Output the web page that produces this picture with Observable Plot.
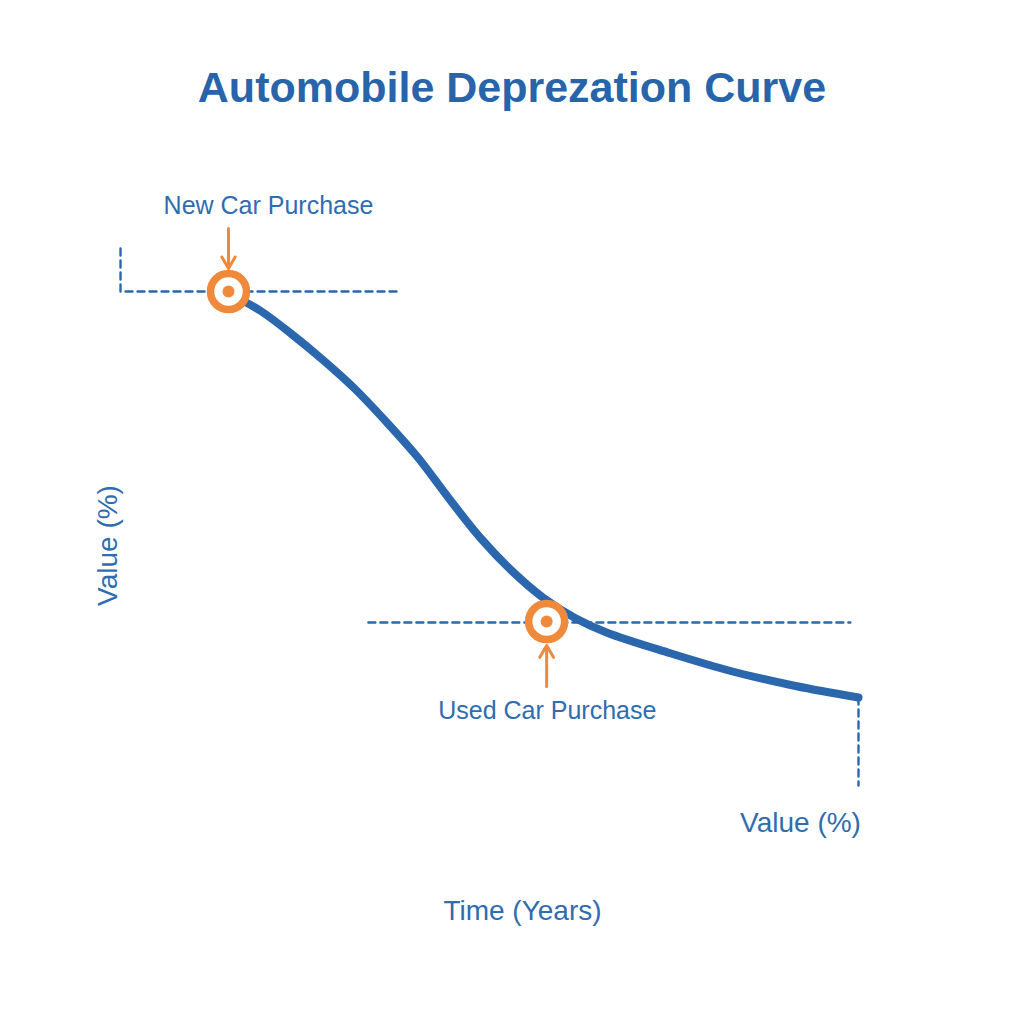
<!DOCTYPE html>
<html>
<head>
<meta charset="utf-8">
<script src="https://cdn.jsdelivr.net/npm/d3@7"></script>
<script src="https://cdn.jsdelivr.net/npm/@observablehq/plot@0.6"></script>
<style>
  html, body { margin: 0; padding: 0; background: #fff; }
  #title { height: 150px; box-sizing: border-box; padding-top: 64px; text-align: center;
    font-family: "Liberation Sans", Arial, sans-serif; font-weight: bold; font-size: 43px;
    line-height: 46px; color: #2864a9; width: 1024px; }
  #chart svg { display: block; overflow: visible; }
</style>
</head>
<body>
<div id="title">Automobile Deprezation Curve</div>
<div id="chart"></div>
<script>
// Data
const years  = [0, 0.5, 1, 1.5, 2, 2.5, 3, 3.5, 4, 4.5, 5, 5.5, 6, 7, 8, 9, 10];
const values = [99.6, 96.2, 91.5, 86.3, 80.6, 74, 66.9, 58.6, 50.7, 44.1, 38.7, 34.7, 31.8, 27.7, 24, 21.1, 18.8];

const eventNames  = ["New Car Purchase", "Used Car Purchase"];
const eventYears  = [0, 5.05];
const eventValues = [100, 34];

// reference (dashed) guides
const guideTopYears  = [-1.714, -1.714, 2.698];
const guideTopValues = [108.6, 100, 100];
const guideLowYears  = [2.22, 9.87];
const guideLowValues = [33.8, 33.8];
const guideEndYears  = [10, 10];
const guideEndValues = [18.8, 1.2];

const curve = years.map((x, i) => ({x, y: values[i]}));
const events = eventNames.map((name, i) => ({name, x: eventYears[i], y: eventValues[i]}));
const gTop = guideTopYears.map((x, i) => ({x, y: guideTopValues[i]}));
const gLow = guideLowYears.map((x, i) => ({x, y: guideLowValues[i]}));
const gEnd = guideEndYears.map((x, i) => ({x, y: guideEndValues[i]}));

const blue = "#2b67ad";
const textBlue = "#2f6cb0";
const orange = "#ef8a3d";
const font = "Liberation Sans, Arial, sans-serif";

const arrows = [
  {x: events[0].x, y1: 112.6, y2: 104.6},
  {x: events[1].x, y1: 21, y2: 29.2}
];
const labels = [
  {name: events[0].name, x: 0.635, y: 117.2},
  {name: events[1].name, x: 5.06, y: 16.2}
];

const plot = Plot.plot({
  width: 1024,
  height: 874,
  marginLeft: 228,
  marginRight: 166,
  marginTop: 141,
  marginBottom: 233,
  x: {domain: [0, 10], axis: null},
  y: {domain: [0, 100], axis: null},
  style: {fontFamily: font, background: "white"},
  marks: [
    Plot.line(gTop, {x: "x", y: "y", stroke: blue, strokeWidth: 2.4, strokeDasharray: "7,5"}),
    Plot.line(gLow, {x: "x", y: "y", stroke: blue, strokeWidth: 2.4, strokeDasharray: "7,5"}),
    Plot.line(gEnd, {x: "x", y: "y", stroke: blue, strokeWidth: 2.4, strokeDasharray: "7,5"}),
    Plot.line(curve, {x: "x", y: "y", stroke: blue, strokeWidth: 8, curve: "catmull-rom", strokeLinecap: "round"}),
    Plot.dot(events, {x: "x", y: "y", r: 18, stroke: orange, strokeWidth: 7.5, fill: "white"}),
    Plot.dot(events, {x: "x", y: "y", r: 6, fill: orange}),
    Plot.arrow(arrows, {x: "x", y1: "y1", y2: "y2", stroke: orange, strokeWidth: 3, headLength: 16}),
    Plot.text(labels, {x: "x", y: "y", text: "name", fill: textBlue, fontSize: 25}),
    Plot.text(["Value (%)"], {frameAnchor: "left", textAnchor: "middle", rotate: -90, dx: -120, dy: 4, fill: textBlue, fontSize: 28}),
    Plot.text(["Value (%)"], {frameAnchor: "bottom-right", textAnchor: "middle", dx: -58, dy: 40, fill: textBlue, fontSize: 28}),
    Plot.text(["Time (Years)"], {frameAnchor: "bottom", dx: -21, dy: 128, fill: textBlue, fontSize: 28})
  ]
});
document.getElementById("chart").appendChild(plot);
</script>
</body>
</html>
